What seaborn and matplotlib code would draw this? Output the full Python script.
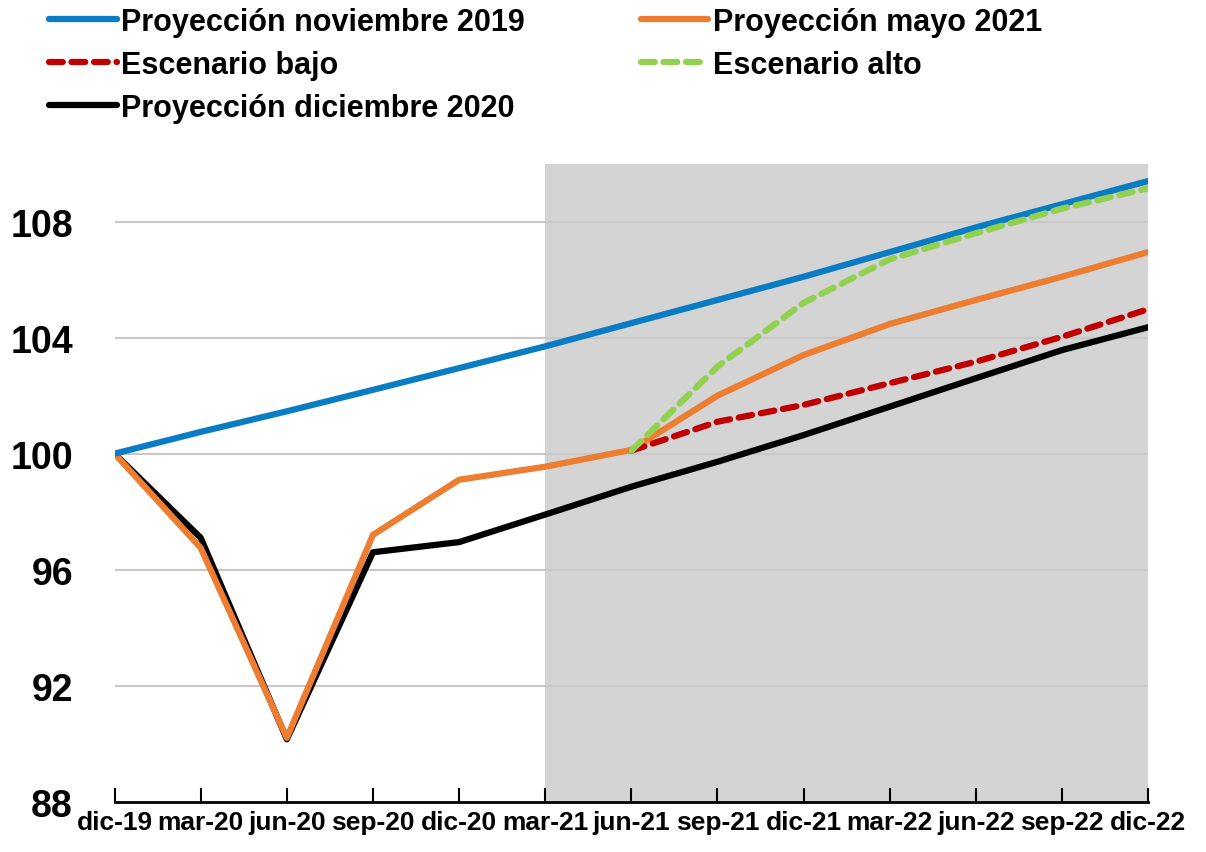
import matplotlib
matplotlib.use('Agg')
import matplotlib.pyplot as plt
import seaborn as sns
import pandas as pd

quarters = ['dic-19', 'mar-20', 'jun-20', 'sep-20', 'dic-20', 'mar-21', 'jun-21',
            'sep-21', 'dic-21', 'mar-22', 'jun-22', 'sep-22', 'dic-22']

proy_nov19 = [100, 100.75, 101.46, 102.2, 102.95, 103.7, 104.5,
              105.3, 106.1, 106.95, 107.8, 108.6, 109.4]
proy_may21 = [100, 96.75, 90.2, 97.2, 99.1, 99.55, 100.13,
              102.0, 103.4, 104.47, 105.3, 106.1, 106.95]
esc_bajo = [None, None, None, None, None, None, 100.1,
            101.1, 101.68, 102.43, 103.17, 104.03, 104.98]
esc_alto = [None, None, None, None, None, None, 100.1,
            103.0, 105.2, 106.7, 107.6, 108.45, 109.15]
proy_dic20 = [100, 97.1, 90.15, 96.6, 96.95, 97.9, 98.86,
              99.72, 100.64, 101.62, 102.6, 103.57, 104.36]

sns.set_theme(style='white')
plt.rcParams['font.family'] = ['Liberation Sans', 'DejaVu Sans']
plt.rcParams['font.weight'] = 'bold'
plt.rcParams['text.color'] = 'black'
plt.rcParams['xtick.color'] = 'black'
plt.rcParams['ytick.color'] = 'black'

df = pd.DataFrame({
    'x': range(len(quarters)),
    'Proyección noviembre 2019': proy_nov19,
    'Proyección mayo 2021': proy_may21,
    'Escenario bajo': esc_bajo,
    'Escenario alto': esc_alto,
    'Proyección diciembre 2020': proy_dic20,
}).astype(float)

fig = plt.figure(figsize=(12.06, 8.53), dpi=100)
ax = fig.add_axes([0.095, 0.059, 0.857, 0.748])

ax.axvspan(5, 12, color='#d4d4d4', zorder=0, lw=0)
for v in [92, 96, 100, 104, 108]:
    ax.axhline(v, color='#c8c8c8', lw=1.5, zorder=1)

sty = {
    'Proyección noviembre 2019': ('#0a7cc4', '-'),
    'Escenario bajo': ('#c00000', (0, (2.2, 1.4))),
    'Proyección diciembre 2020': ('#000000', '-'),
    'Proyección mayo 2021': ('#ed7d31', '-'),
    'Escenario alto': ('#92d050', (0, (2.2, 1.4))),
}
order_draw = ['Proyección diciembre 2020', 'Proyección mayo 2021', 'Proyección noviembre 2019',
              'Escenario bajo', 'Escenario alto']
lines = {}
for i, name in enumerate(order_draw):
    c, ls = sty[name]
    sns.lineplot(data=df, x='x', y=name, ax=ax, color=c, lw=4.5, zorder=3 + i)
    ln = ax.get_lines()[-1]
    ln.set_linestyle(ls)
    ln.set_dash_capstyle('round')
    lines[name] = ln

ax.set_xlim(0, 12)
ax.set_ylim(88, 110)
ax.set_yticks([88, 92, 96, 100, 104, 108])
ax.set_xticks(range(len(quarters)))
ax.set_xticklabels(quarters)
ax.set_xlabel('')
ax.set_ylabel('')
for s in ['top', 'right', 'left']:
    ax.spines[s].set_visible(False)
ax.spines['bottom'].set_color('black')
ax.spines['bottom'].set_linewidth(2)
ax.tick_params(axis='x', direction='in', length=10, width=1.5, color='black',
               labelsize=19, pad=6, bottom=True)
ax.tick_params(axis='y', length=0, labelsize=27, pad=30)
for t in ax.get_xticklabels() + ax.get_yticklabels():
    t.set_fontweight('bold')

# column-wise fill: first column then second
leg_names = ['Proyección noviembre 2019', 'Escenario bajo', 'Proyección diciembre 2020',
             'Proyección mayo 2021', 'Escenario alto']
fig.legend([lines[n] for n in leg_names], leg_names, loc='upper left',
           bbox_to_anchor=(0.041, 0.991), ncol=2, frameon=False,
           prop={'size': 22, 'weight': 'bold'}, handlelength=2.2,
           handletextpad=0.15, columnspacing=3.8, labelspacing=0.43,
           borderpad=0, borderaxespad=0)

fig.savefig('out.png', dpi=100)
